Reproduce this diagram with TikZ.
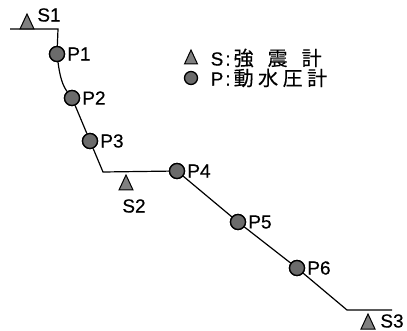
\documentclass[tikz,border=0pt]{standalone}
\usepackage{fontspec}
\setmainfont{Liberation Sans}
\newfontface\lblf{Liberation Sans}[FakeBold=0.5]
\newfontfamily\cjk{Noto Sans CJK JP}[FakeBold=0.3]
\tikzset{
  lbl/.style={font=\lblf\fontsize{19}{22}\selectfont, inner sep=0.5pt},
  plbl/.style={lbl, anchor=west, xshift=1.5pt},
  gauge/.style={circle, draw=black, line width=1.3pt, fill=black!58, minimum size=15pt, inner sep=0pt},
  trist/.style={draw=black, line width=1pt, fill=black!50, line join=miter},
  wall/.style={line width=1.2pt, black}
}
\begin{document}
\begin{tikzpicture}[x=1pt,y=-1pt]
\useasboundingbox (0,0) rectangle (407,331);
% wall profile coordinates
\coordinate (A0) at (10,29);
\coordinate (C1) at (58,29);
\coordinate (C2) at (103,172);
\coordinate (C3) at (347,310);
\coordinate (A1) at (392,310);
% pressure gauges
\node[gauge] (P1) at (57,54) {};
\node[gauge] (P2) at (72,98) {};
\node[gauge] (P3) at (90,141) {};
\node[gauge] (P4) at (177,171) {};
\node[gauge] (P5) at (238,222) {};
\node[gauge] (P6) at (297,268) {};
% profile line
\draw[wall] (A0) -- (C1) -- (P1);
\draw[wall] (P1) .. controls (60,78) and (63,86) .. (P2);
\draw[wall] (P2) -- (P3) -- (C2) -- (P4) -- (P5) -- (P6) -- (C3) -- (A1);
% redraw gauges on top
\foreach \n in {P1,P2,P3,P4,P5,P6}{\node[gauge] at (\n) {};}
% gauge labels
\node[plbl] (LP1) at (P1.east) {P1};
\node[plbl] (LP2) at (P2.east) {P2};
\node[plbl] (LP3) at (P3.east) {P3};
\node[plbl] (LP4) at (P4.east) {P4};
\node[plbl] (LP5) at (P5.east) {P5};
\node[plbl] (LP6) at (P6.east) {P6};
% seismometers
\coordinate (T1) at (27,29);
\coordinate (T2) at (126,190);
\coordinate (T3) at (368,329);
\foreach \t in {T1,T2,T3}{\draw[trist] (\t) ++(-7,0) -- ++(7,-15) -- ++(7,15) -- cycle;}
\node[lbl] (S1) at (49,15) {S1};
\node[lbl] (S2) at (134,206) {S2};
\node[lbl] (S3) at (392,321) {S3};
% legend
\coordinate (LT) at (191,64);
\draw[trist] (LT) ++(-6.5,0) -- ++(6.5,-14) -- ++(6.5,14) -- cycle;
\node[gauge, minimum size=13pt] (LC) at (191,78) {};
\node[lbl, anchor=west] (L1) at (210,58) {S\kern2pt:\kern3pt{\cjk\fontsize{20}{21}\selectfont 強\kern14pt震\kern14pt計}};
\node[lbl, anchor=west] (L2) at (210,78) {P\kern2pt:\kern3pt{\cjk\fontsize{20}{21}\selectfont 動\kern4.5pt水\kern4.5pt圧\kern4.5pt計}};
\end{tikzpicture}
\end{document}
